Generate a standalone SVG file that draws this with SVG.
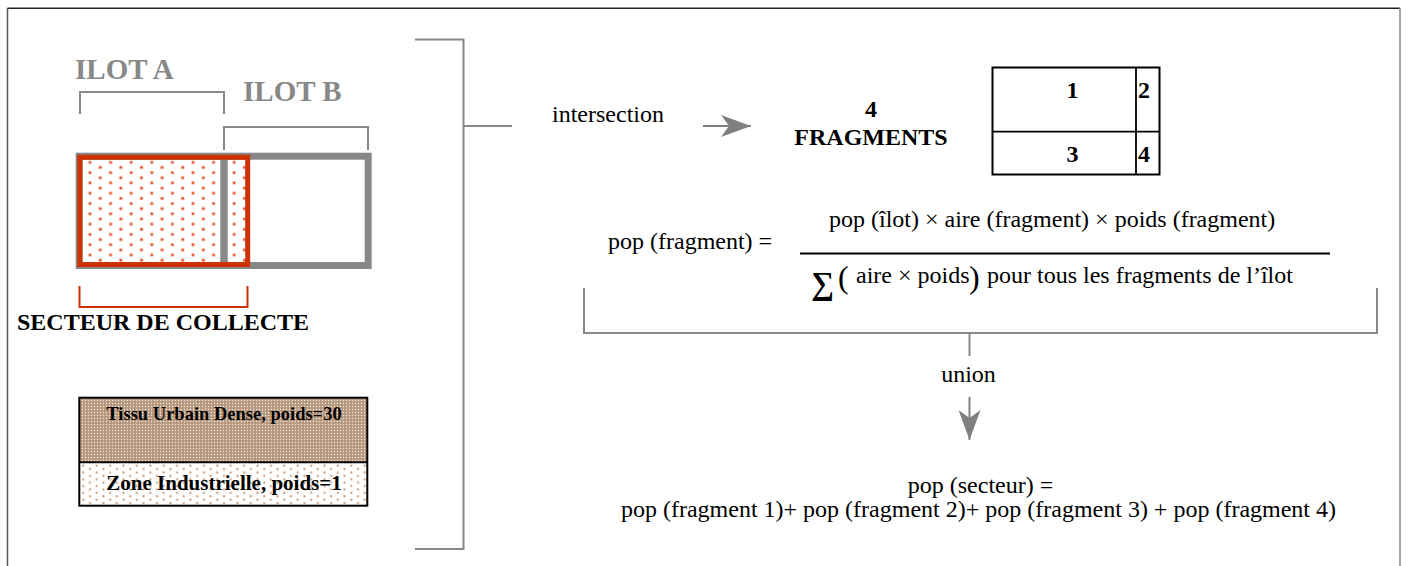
<svg xmlns="http://www.w3.org/2000/svg" width="1407" height="566" viewBox="0 0 1407 566">
<style>
  text { font-family: "Liberation Serif", "Times New Roman", serif; fill: #000; }
  .b { font-weight: bold; }
  .ilot { font-weight: bold; fill: #888; font-size: 29px; }
  .t24 { font-size: 24px; }
  .gline { fill: none; stroke: #888; stroke-width: 2; }
  .rline { fill: none; stroke: #cc3300; stroke-width: 2; }
</style>
<defs>
  <pattern id="reddots" patternUnits="userSpaceOnUse" x="85" y="159.75" width="20.6" height="10.3">
    <circle cx="5" cy="2.55" r="1.9" fill="#f3b3a0"/>
    <circle cx="15.3" cy="7.7" r="1.9" fill="#f3b3a0"/>
    <circle cx="5" cy="2.55" r="1.2" fill="#e0502a"/>
    <circle cx="15.3" cy="7.7" r="1.2" fill="#e0502a"/>
  </pattern>
  <pattern id="dense" patternUnits="userSpaceOnUse" width="3" height="3">
    <rect width="3" height="3" fill="#b6987e"/>
    <circle cx="1.5" cy="1.5" r="0.65" fill="#f4ece4"/>
  </pattern>
  <pattern id="sparse" patternUnits="userSpaceOnUse" x="80" y="464" width="13.4" height="6.8">
    <rect width="13.4" height="6.8" fill="#fff"/>
    <circle cx="3.3" cy="1.7" r="1.1" fill="#c39a78"/>
    <circle cx="10" cy="5.1" r="1.1" fill="#c39a78"/>
  </pattern>
  <marker id="arr" markerUnits="userSpaceOnUse" markerWidth="32" markerHeight="24" refX="30" refY="11" orient="auto" overflow="visible">
    <path d="M0,0 L30,11 L0,22 L8,11 Z" fill="#808080"/>
  </marker>
</defs>

<!-- frame -->
<g id="frame">
  <line x1="7.5" y1="8.3" x2="1400" y2="8.3" stroke="#222" stroke-width="1.5"/>
  <line x1="7.5" y1="8" x2="7.5" y2="566" stroke="#555" stroke-width="1.5"/>
  <line x1="1400" y1="8" x2="1400" y2="566" stroke="#888" stroke-width="1.5"/>
</g>

<!-- ilots and secteur -->
<g id="ilot-a-label">
  <text class="ilot" x="75" y="79">ILOT A</text>
  <path class="gline" d="M80,114 V92 H224 V114"/>
</g>
<g id="ilot-b-label">
  <text class="ilot" x="243" y="101">ILOT B</text>
  <path class="gline" d="M224,150 V127 H368 V150"/>
</g>
<g id="ilots">
  <rect x="80" y="157" width="168" height="108" fill="url(#reddots)"/>
  <rect x="79.2" y="156.2" width="289" height="109.3" fill="none" stroke="#888" stroke-width="7"/>
  <line x1="224" y1="156" x2="224" y2="266" stroke="#888" stroke-width="7.5"/>
</g>
<g id="secteur">
  <rect x="79.8" y="157.3" width="167.9" height="107.2" fill="none" stroke="#cc3300" stroke-width="5"/>
  <path class="rline" d="M79.5,286 V307 H247.5 V286"/>
  <text class="b t24" x="17" y="330">SECTEUR DE COLLECTE</text>
</g>

<!-- legend -->
<g id="legend">
  <rect x="79.3" y="397.7" width="288" height="64.6" fill="url(#dense)"/>
  <rect x="79.3" y="462.3" width="288" height="43.4" fill="url(#sparse)"/>
  <rect x="79.3" y="397.7" width="288" height="108" fill="none" stroke="#000" stroke-width="2"/>
  <line x1="79.3" y1="462.3" x2="367.3" y2="462.3" stroke="#000" stroke-width="2"/>
  <text class="b" x="224" y="420" font-size="18.5" text-anchor="middle">Tissu Urbain Dense, poids=30</text>
  <text class="b" x="224" y="490" font-size="21" text-anchor="middle">Zone Industrielle, poids=1</text>
</g>

<!-- connectors -->
<g id="connectors">
  <path class="gline" d="M415,39.5 H463.5 V549 H415"/>
  <line class="gline" x1="463.5" y1="126" x2="512" y2="126"/>
  <line x1="703" y1="126" x2="751" y2="126" stroke="#808080" stroke-width="2" marker-end="url(#arr)"/>
  <path class="gline" d="M584,288 V333 H1377 V288"/>
  <line class="gline" x1="969.5" y1="333" x2="969.5" y2="356"/>
  <line x1="969.5" y1="397" x2="969.5" y2="440" stroke="#808080" stroke-width="2" marker-end="url(#arr)"/>
</g>

<g id="intersection-label">
  <text class="t24" x="552" y="122">intersection</text>
</g>

<g id="fragments-title">
  <text class="b t24" x="871" y="117" text-anchor="middle">4</text>
  <text class="b t24" x="871" y="145" text-anchor="middle">FRAGMENTS</text>
</g>

<g id="fragments-grid">
  <rect x="992.5" y="67.5" width="167" height="107" fill="none" stroke="#000" stroke-width="2"/>
  <line x1="1136" y1="67.5" x2="1136" y2="174.5" stroke="#000" stroke-width="1.8"/>
  <line x1="992.5" y1="131.7" x2="1159.5" y2="131.7" stroke="#000" stroke-width="1.8"/>
  <text class="b t24" x="1072.5" y="98" text-anchor="middle">1</text>
  <text class="b t24" x="1144" y="98" text-anchor="middle">2</text>
  <text class="b t24" x="1072.5" y="162" text-anchor="middle">3</text>
  <text class="b t24" x="1144" y="162" text-anchor="middle">4</text>
</g>

<g id="formula">
  <text class="t24" x="608" y="249">pop (fragment) =</text>
  <text class="t24" x="829" y="227">pop (îlot) × aire (fragment) × poids (fragment)</text>
  <line x1="800" y1="253.5" x2="1330" y2="253.5" stroke="#000" stroke-width="2"/>
  <text x="811" y="294" font-size="32" font-weight="bold">∑</text>
  <text x="838" y="288" font-size="32">(</text>
  <text class="t24" x="856" y="283">aire × poids</text>
  <text x="969" y="288" font-size="32">)</text>
  <text class="t24" x="987" y="283">pour tous les fragments de l’îlot</text>
</g>

<g id="union-label">
  <text class="t24" x="968.5" y="382" text-anchor="middle">union</text>
</g>

<g id="result">
  <text class="t24" x="980.5" y="493" text-anchor="middle">pop (secteur) =</text>
  <text class="t24" x="978.5" y="517" text-anchor="middle">pop (fragment 1)+ pop (fragment 2)+ pop (fragment 3) + pop (fragment 4)</text>
</g>
</svg>
